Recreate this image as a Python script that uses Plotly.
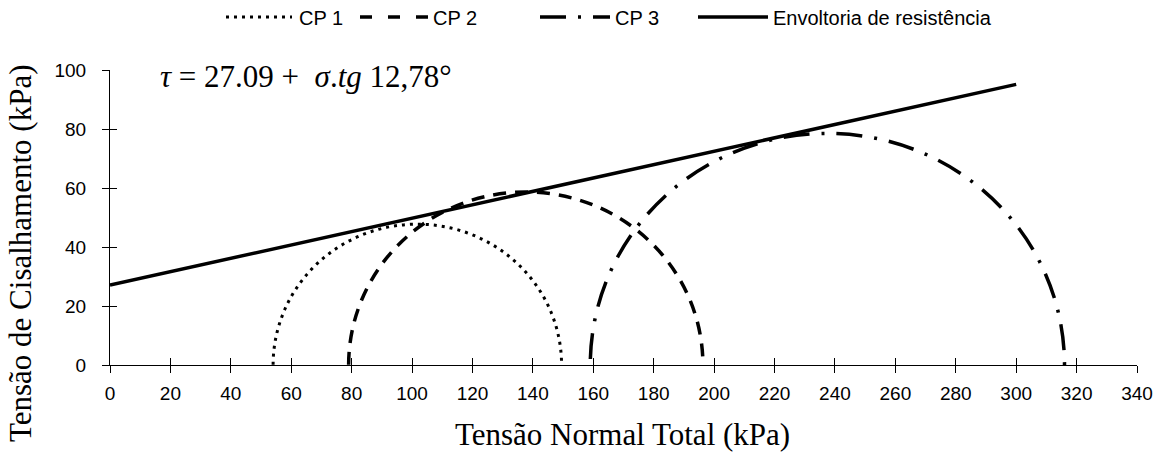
import math
import plotly.graph_objects as go

# ---- data ----
specimens = ["CP 1", "CP 2", "CP 3"]
sigma3 = [54.0, 79.0, 159.0]      # kPa, left end of each Mohr circle
sigma1 = [149.5, 196.3, 316.0]    # kPa, right end of each Mohr circle
cohesion = 27.09                  # kPa
phi_deg = 12.78                   # degrees
envelope_x = [0, 300]
envelope_y = [cohesion + x * math.tan(math.radians(phi_deg)) for x in envelope_x]
envelope_name = "Envoltoria de resistência"
x_ticks = list(range(0, 341, 20))
y_ticks = list(range(0, 101, 20))

# ---- styles ----
W, H = 1154, 453
L, R, T, B = 110, 17, 70, 88
PW, PH = W - L - R, H - T - B
SANS = "Liberation Sans, Arial, sans-serif"
SERIF = "Liberation Serif, Times New Roman, serif"
styles = [
    dict(width=3, dash="3px,5px"),
    dict(width=3.5, dash="13px,9px"),
    dict(width=3.5, dash="26px,12px,3px,12px"),
]

def px(xp):   # page pixel -> paper x
    return (xp - L) / PW

def py(yp):   # page pixel -> paper y
    return (H - B - yp) / PH

fig = go.Figure()

fig.add_trace(go.Scatter(
    x=envelope_x, y=envelope_y, mode="lines", name=envelope_name,
    line=dict(color="black", width=3.5), showlegend=False, hoverinfo="skip"))
# helper trace so the overlaid tick axes exist
fig.add_trace(go.Scatter(x=[None], y=[None], xaxis="x2", yaxis="y2",
                         showlegend=False, hoverinfo="skip"))

shapes = []
for s3, s1, st in zip(sigma3, sigma1, styles):
    r = (s1 - s3) / 2
    shapes.append(dict(type="circle", xref="x", yref="y", x0=s3, x1=s1, y0=-r, y1=r,
                       line=dict(color="black", width=st["width"], dash=st["dash"]),
                       layer="above"))

# manual legend
LEG_Y = 18
legend_items = [
    (specimens[0], styles[0], 226, 292, 297),
    (specimens[1], dict(width=3.5, dash="12px,16px"), 360, 428, 431),
    (specimens[2], styles[2], 540, 610, 613),
    (envelope_name, dict(width=3.5, dash="solid"), 698, 768, 771),
]
annotations = []
for name, st, x0, x1, xt in legend_items:
    shapes.append(dict(type="line", xref="paper", yref="paper",
                       x0=px(x0), x1=px(x1), y0=py(LEG_Y - 1), y1=py(LEG_Y - 1),
                       line=dict(color="black", width=st["width"], dash=st["dash"])))
    annotations.append(dict(text=name, xref="paper", yref="paper", x=px(xt), y=py(LEG_Y),
                            xanchor="left", yanchor="middle", showarrow=False,
                            font=dict(family=SANS, size=20, color="black")))

annotations.append(dict(
    text="<i>τ</i> = 27.09 +  <i>σ</i>.<i>tg</i> 12,78°",
    xref="paper", yref="paper", x=px(158), y=py(77), xanchor="left", yanchor="middle",
    showarrow=False, font=dict(family=SERIF, size=31, color="black")))
annotations.append(dict(
    text="Tensão Normal Total (kPa)", xref="paper", yref="paper",
    x=px(622), y=py(434), xanchor="center", yanchor="middle", showarrow=False,
    font=dict(family=SERIF, size=31, color="black")))
annotations.append(dict(
    text="Tensão de Cisalhamento (kPa)", xref="paper", yref="paper",
    x=px(21), y=py(254), xanchor="center", yanchor="middle", showarrow=False,
    textangle=-90, font=dict(family=SERIF, size=31, color="black")))

tickfont = dict(family=SANS, size=19, color="black")
fig.update_layout(
    width=W, height=H,
    margin=dict(l=L, r=R, t=T, b=B, autoexpand=False),
    paper_bgcolor="white", plot_bgcolor="white",
    showlegend=False,
    shapes=shapes, annotations=annotations,
    xaxis=dict(range=[0, 340], tickvals=x_ticks, ticks="outside", ticklen=7,
               tickcolor="black", showline=True, linecolor="black", linewidth=1,
               showgrid=False, zeroline=False, tickfont=tickfont, automargin=False,
               ticklabelstandoff=4),
    yaxis=dict(range=[0, 100], tickvals=y_ticks, ticks="outside", ticklen=7,
               tickcolor="black", showline=True, linecolor="black", linewidth=1,
               showgrid=False, zeroline=False, tickfont=tickfont, automargin=False,
               ticklabelstandoff=12),
    xaxis2=dict(overlaying="x", anchor="y2", side="bottom", range=[0, 340],
                tickvals=x_ticks, ticks="inside", ticklen=7, tickcolor="black",
                showticklabels=False, showline=False, showgrid=False, zeroline=False,
                automargin=False),
    yaxis2=dict(overlaying="y", anchor="x2", side="left", range=[0, 100],
                tickvals=y_ticks, ticks="inside", ticklen=7, tickcolor="black",
                showticklabels=False, showline=False, showgrid=False, zeroline=False,
                automargin=False),
)

fig.write_html(
    "out.html",
    config={"displayModeBar": False},
    post_script="document.body.style.margin='0';document.body.style.overflow='hidden';",
)
